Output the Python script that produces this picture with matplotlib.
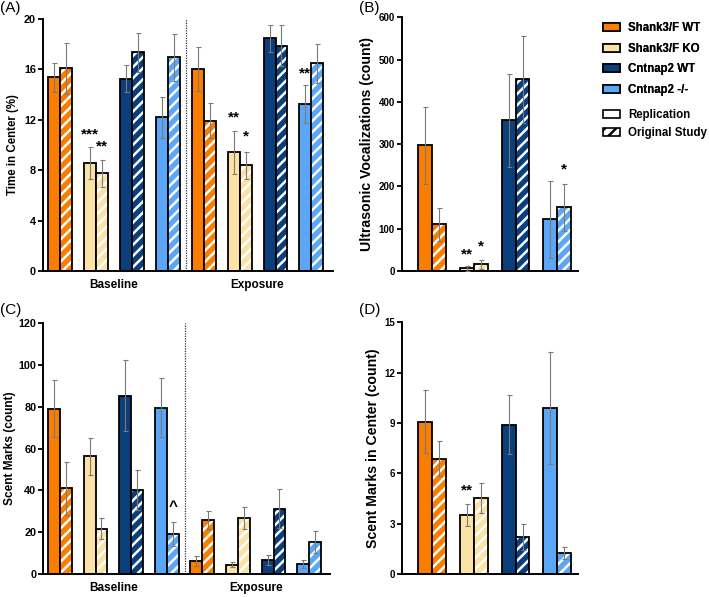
import numpy as np
import matplotlib.pyplot as plt
from matplotlib.patches import Patch

plt.rcParams['font.family'] = ['Liberation Sans', 'DejaVu Sans']
plt.rcParams['font.weight'] = 'bold'
plt.rcParams['axes.labelweight'] = 'bold'
plt.rcParams['hatch.linewidth'] = 1.8

# ---------------- data ----------------
groups = ['Shank3/F WT', 'Shank3/F KO', 'Cntnap2 WT', 'Cntnap2 -/-']
colors = ['#F97E00', '#FBE2A6', '#0B3F7C', '#5BA6F6']
periods = ['Baseline', 'Exposure']

# (A) Time in Center (%)  -- baseline then exposure
a_rep = [15.35, 8.53, 15.24, 12.18, 16.04, 9.43, 18.44, 13.24]
a_rep_err = [1.15, 1.27, 1.06, 1.6, 1.74, 1.7, 1.06, 1.53]
a_orig = [16.06, 7.74, 17.33, 16.94, 11.92, 8.37, 17.86, 16.46]
a_orig_err = [2.0, 1.06, 1.56, 1.85, 1.4, 1.1, 1.64, 1.53]

# (B) Ultrasonic vocalizations (count)
b_rep = [297, 7, 357, 122]
b_rep_err = [92, 6, 110, 91]
b_orig = [111, 16, 453, 151]
b_orig_err = [39, 10, 103, 56]

# (C) Scent marks (count) -- baseline then exposure
c_rep = [79.0, 56.3, 85.2, 79.5, 6.4, 4.6, 6.8, 4.9]
c_rep_err = [13.5, 8.9, 16.9, 14.0, 2.2, 1.3, 2.3, 1.9]
c_orig = [41.0, 21.8, 40.1, 19.2, 26.1, 26.9, 31.3, 15.6]
c_orig_err = [12.7, 4.9, 9.5, 5.6, 4.3, 5.2, 9.2, 5.2]

# (D) Scent marks in center (count)
d_rep = [9.07, 3.53, 8.9, 9.89]
d_rep_err = [1.87, 0.67, 1.74, 3.33]
d_orig = [6.88, 4.52, 2.22, 1.29]
d_orig_err = [1.05, 0.89, 0.77, 0.35]

# significance marks: (pair index, 0=replication / 1=original, y, text)
a_marks = [(1, 0, 10.8, '***'), (1, 1, 9.85, '**'), (5, 0, 12.2, '**'),
           (5, 1, 10.65, '*'), (7, 0, 15.7, '**')]
b_marks = [(1, 0, 40, '**'), (1, 1, 58, '*'), (3, 1, 240, '*')]
c_marks = [(3, 1, 32, '^')]
d_marks = [(1, 0, 5.0, '**')]


def draw_panel(ax, rep, rep_err, orig, orig_err, marks, split, tick_fs):
    centers = []
    for i in range(len(rep)):
        c = 3 * i
        centers.append(c)
        col = colors[i % 4]
        ax.bar(c - 0.5, rep[i], width=1, color=col, edgecolor='black',
               linewidth=1.3, zorder=2)
        ax.bar(c + 0.5, orig[i], width=1, color=col, edgecolor='white',
               hatch='///', linewidth=0, zorder=2)
        ax.bar(c + 0.5, orig[i], width=1, fill=False, edgecolor='black',
               linewidth=1.3, zorder=3)
        ax.errorbar([c - 0.5, c + 0.5], [rep[i], orig[i]],
                    yerr=[rep_err[i], orig_err[i]], fmt='none',
                    ecolor='#7a7a7a', elinewidth=0.8, capsize=1.8,
                    capthick=0.8, zorder=4)
    for i, k, y, t in marks:
        x = centers[i] - 0.5 + k
        ax.text(x, y, t, ha='center', va='center', fontsize=11, zorder=5)
    for s in ['top', 'right']:
        ax.spines[s].set_visible(False)
    for s in ['left', 'bottom']:
        ax.spines[s].set_linewidth(1.4)
    ax.tick_params(axis='y', labelsize=tick_fs, width=1.3, length=3.5, pad=1.5)
    ax.tick_params(axis='x', length=0)
    if split:
        ax.axvline(10.5, color='#333333', linestyle=(0, (1, 1)),
                   linewidth=0.9, zorder=1)
        ax.set_xticks([4.5, 16.5])
        ax.set_xticklabels(periods, fontsize=8.5)
        ax.tick_params(axis='x', pad=5.5)
        ax.set_xlim(-1.4, 22.8)
    else:
        ax.set_xticks([])
        ax.set_xlim(-2.2, 10.5)


fig = plt.figure(figsize=(7.09, 5.97), dpi=100)
axA = fig.add_axes([0.0607, 0.546, 0.409, 0.4226])
axB = fig.add_axes([0.5666, 0.546, 0.2487, 0.425])
axC = fig.add_axes([0.0611, 0.038, 0.405, 0.4214])
axD = fig.add_axes([0.5666, 0.038, 0.2487, 0.4225])

draw_panel(axA, a_rep, a_rep_err, a_orig, a_orig_err, a_marks, True, 7.8)
axA.set_ylim(0, 20)
axA.set_yticks([0, 4, 8, 12, 16, 20])
axA.set_ylabel('Time in Center (%)', fontsize=8.3, labelpad=4)

draw_panel(axB, b_rep, b_rep_err, b_orig, b_orig_err, b_marks, False, 7)
axB.set_ylim(0, 600)
axB.set_yticks(np.arange(0, 601, 100))
axB.set_ylabel('Ultrasonic Vocalizations (count)', fontsize=10.2, labelpad=3)

draw_panel(axC, c_rep, c_rep_err, c_orig, c_orig_err, c_marks, True, 7.8)
axC.set_ylim(0, 120)
axC.set_yticks(np.arange(0, 121, 20))
axC.set_ylabel('Scent Marks (count)', fontsize=8.6, labelpad=2)

draw_panel(axD, d_rep, d_rep_err, d_orig, d_orig_err, d_marks, False, 7)
axD.set_ylim(0, 15)
axD.set_yticks([0, 3, 6, 9, 12, 15])
axD.set_ylabel('Scent Marks in Center (count)', fontsize=10.2, labelpad=3)

for lab, (x, y) in zip(['(A)', '(B)', '(C)', '(D)'],
                       [(0.0, 0.987), (0.506, 0.987), (0.0, 0.481), (0.506, 0.481)]):
    fig.text(x, y, lab, fontsize=11, fontweight='normal', va='center')

# legends
h1 = [Patch(facecolor=c, edgecolor='black', linewidth=1.2) for c in colors]
leg1 = fig.legend(h1, groups, loc='upper left', bbox_to_anchor=(0.8505, 0.963),
                  frameon=False, fontsize=8.3, handlelength=1.45,
                  handleheight=0.65, labelspacing=0.75, handletextpad=0.7,
                  borderpad=0, borderaxespad=0)
h2 = [Patch(facecolor='white', edgecolor='black', linewidth=1.2),
      Patch(facecolor='white', edgecolor='black', linewidth=1.2, hatch='///')]
fig.legend(h2, ['Replication', 'Original Study'], loc='upper left',
           bbox_to_anchor=(0.8505, 0.817), frameon=False, fontsize=8.3,
           handlelength=1.45, handleheight=0.65, labelspacing=0.52,
           handletextpad=0.7, borderpad=0, borderaxespad=0)
fig.add_artist(leg1)

fig.savefig('out.png', dpi=100)
